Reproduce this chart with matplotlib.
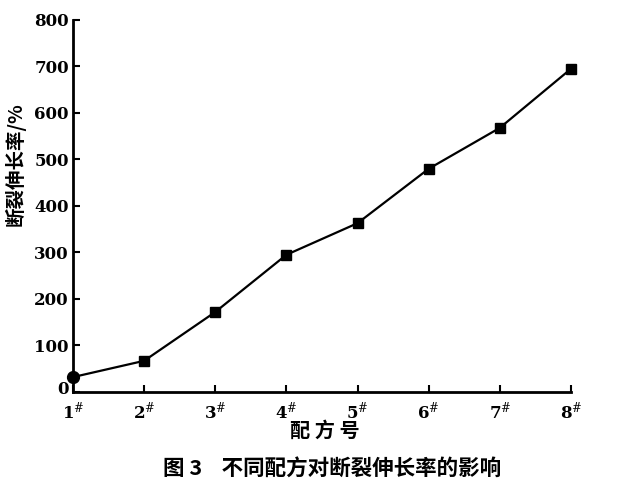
import matplotlib.pyplot as plt
from matplotlib.transforms import ScaledTranslation

plt.rcParams['font.family'] = ['DejaVu Serif', 'Noto Sans CJK SC']
plt.rcParams['mathtext.fontset'] = 'dejavuserif'

# formula number vs elongation at break (%)
formula = [1, 2, 3, 4, 5, 6, 7, 8]
elongation = [32, 67, 172, 295, 363, 480, 568, 695]
xtick_labels = [f'{n}$^{{\\#}}$' for n in formula]
yticks = [0, 100, 200, 300, 400, 500, 600, 700, 800]

fig = plt.figure(figsize=(6.33, 4.98), dpi=100)
ax = fig.add_axes([0.1153, 0.2129, 0.7867, 0.747])

ax.plot(formula, elongation, color='black', lw=1.6, clip_on=False, zorder=3)
ax.plot(formula[1:], elongation[1:], 's', color='black', ms=6.5,
        clip_on=False, zorder=4)
ax.plot(formula[0], elongation[0], 'o', color='black', ms=8.5, clip_on=False, zorder=4)

ax.set_xlim(1, 8)
ax.set_ylim(0, 800)
ax.set_xticks(formula)
ax.set_xticklabels(xtick_labels, fontsize=12, fontweight='bold')
ax.set_yticks(yticks)
ax.set_yticklabels([str(v) for v in yticks], fontsize=12, fontweight='bold')

for s in ['top', 'right']:
    ax.spines[s].set_visible(False)
for s in ['left', 'bottom']:
    ax.spines[s].set_linewidth(2)
ax.tick_params(direction='in', length=5, width=1.5)
ax.tick_params(axis='y', pad=3)
ax.tick_params(axis='x', pad=6)

# nudge the "0" label up so it clears the "1#" label
zero_lbl = ax.get_yticklabels()[0]
zero_lbl.set_transform(zero_lbl.get_transform() + ScaledTranslation(0, 3 / 72, fig.dpi_scale_trans))

cjk = ['Noto Sans CJK SC']
fig.text(0.513, 0.137, '配 方 号', ha='center', va='center', fontsize=14.5,
         fontweight='bold', family=cjk)
fig.text(0.024, 0.67, '断裂伸长率/%', ha='center', va='center', fontsize=14,
         fontweight='bold', rotation=90, family=cjk)
fig.text(0.525, 0.058, '图 3    不同配方对断裂伸长率的影响', ha='center', va='center',
         fontsize=15.5, fontweight='bold', family=cjk)

fig.savefig('out.png', dpi=100)
